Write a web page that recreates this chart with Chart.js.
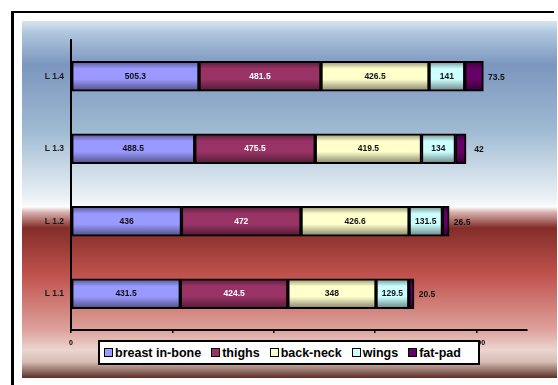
<!DOCTYPE html>
<html><head><meta charset="utf-8">
<script src="https://cdn.jsdelivr.net/npm/chart.js@4/dist/chart.umd.min.js"></script>
<style>
html,body{margin:0;padding:0;background:#fff;}
#wrap{position:relative;width:558px;height:385px;overflow:hidden;}
#legend{position:absolute;left:98px;top:340px;width:374px;height:21px;border:2px solid #000;background:#fff;display:flex;align-items:center;justify-content:flex-start;padding-left:4px;box-sizing:content-box;font:bold 12.5px "Liberation Sans",Arial,sans-serif;color:#000;white-space:nowrap;}
#legend .item{display:flex;align-items:center;margin-right:10px;}
#legend .sw{width:7px;height:7px;border:1.5px solid #000;margin-right:2px;}
</style></head>
<body><div id="wrap"><canvas id="c" width="558" height="385"></canvas><div id="legend"></div></div>
<script>
const categories = ['L 1.1','L 1.2','L 1.3','L 1.4'];
const seriesNames = ['breast in-bone','thighs','back-neck','wings','fat-pad'];
const breast = [431.5,436,488.5,505.3];
const thighs = [424.5,472,475.5,481.5];
const backNeck = [348,426.6,419.5,426.5];
const wings = [129.5,131.5,134,141];
const fatPad = [20.5,26.5,42,73.5];
const xTicks = [0,400,800,1200,1600];
const xMax = 1800;

const seriesColors = ['#9999ff','#993366','#ffffcc','#ccffff','#660066'];
const labelColors = ['#111','#fff','#111','#111','#111'];
const seriesData = [breast, thighs, backNeck, wings, fatPad];
const FONT = '"Liberation Sans", Arial, sans-serif';

function shade(hex, f){
  const n = parseInt(hex.slice(1),16);
  const r=(n>>16)&255,g=(n>>8)&255,b=n&255;
  return 'rgb('+Math.round(r*f)+','+Math.round(g*f)+','+Math.round(b*f)+')';
}
function barFill(ci){
  return function(ctx){
    const chart = ctx.chart;
    const ys = chart.scales && chart.scales.y;
    const base = seriesColors[ci];
    if(!ys || ctx.type !== 'data' || !isFinite(ys.getPixelForValue(ctx.dataIndex))) return base;
    const c = ys.getPixelForValue(ctx.dataIndex);
    const h = 15;
    const g = chart.ctx.createLinearGradient(0, c-h, 0, c+h);
    g.addColorStop(0, shade(base,0.55));
    g.addColorStop(0.25, base);
    g.addColorStop(0.6, base);
    g.addColorStop(1, shade(base,0.5));
    return g;
  };
}

const bgPlugin = {
  id:'bg',
  beforeDraw(chart){
    const c = chart.ctx;
    c.save();
    c.fillStyle='#fff'; c.fillRect(0,0,chart.width,chart.height);
    const top=21, bot=378;
    const g = c.createLinearGradient(0,top,0,bot);
    const st = [[21,'#d6e6f0'],[32,'#b0c8de'],[65,'#7c96bf'],[130,'#9ebad2'],[200,'#eef3f7'],[207,'#fbfcfd'],[212,'#d9b4b0'],[228,'#832d29'],[275,'#c0524d'],[330,'#dea29c'],[350,'#ebd5cf'],[362,'#d6bcb4'],[378,'#5a3028']];
    st.forEach(s=>g.addColorStop((s[0]-top)/(bot-top), s[1]));
    c.fillStyle=g; c.fillRect(22,top,535,bot-top);
    c.fillStyle='#000';
    c.fillRect(11,11,3,chart.height-11);
    c.fillRect(11,11,543,2);
    c.restore();
  }
};

const labelPlugin = {
  id:'vals',
  afterDatasetsDraw(chart){
    const c = chart.ctx;
    c.save();
    c.font = 'bold 8.5px '+FONT;
    c.textBaseline='middle';
    chart.data.datasets.forEach((ds,di)=>{
      const meta = chart.getDatasetMeta(di);
      meta.data.forEach((el,i)=>{
        const v = ds.data[i];
        if(di === chart.data.datasets.length-1){
          c.textAlign='center'; c.fillStyle='#111';
          c.fillText(String(v), el.x+13, el.y+1);
        } else {
          c.textAlign='center'; c.fillStyle=labelColors[di];
          c.fillText(String(v), (el.x+el.base)/2, el.y);
        }
      });
    });
    c.restore();
  }
};

const chart = new Chart(document.getElementById('c'), {
  type:'bar',
  data:{
    labels: categories,
    datasets: seriesNames.map((n,i)=>({
      label:n, data:seriesData[i],
      backgroundColor: barFill(i),
      borderColor:'#000', borderWidth:2, borderSkipped:false,
      barThickness:30
    }))
  },
  options:{
    indexAxis:'y', responsive:false, animation:false,
    layout:{padding:{top:40,right:31,left:0,bottom:0}},
    plugins:{legend:{display:false}, tooltip:{enabled:false}, title:{display:false}},
    scales:{
      x:{
        stacked:true, min:0, max:xMax,
        afterFit(s){ s.height = 55; },
        afterBuildTicks(s){ s.ticks = xTicks.map(v=>({value:v})); },
        grid:{display:true, drawOnChartArea:false, drawTicks:true, tickLength:3, color:'#000', lineWidth:1.5},
        border:{display:true, color:'#000', width:2},
        ticks:{padding:6, color:'#000', font:{family:FONT, size:7, weight:'bold'}, maxRotation:0, autoSkip:false}
      },
      y:{
        stacked:true, reverse:true,
        afterFit(s){ s.width = 71; },
        grid:{display:false, tickLength:0},
        border:{display:true, color:'#000', width:2},
        ticks:{padding:7, color:'#1a1a1a', font:{family:FONT, size:8.5, weight:'bold'}}
      }
    }
  },
  plugins:[bgPlugin, labelPlugin]
});

const leg = document.getElementById('legend');
chart.data.datasets.forEach((ds,i)=>{
  const it = document.createElement('div'); it.className='item';
  const sw = document.createElement('span'); sw.className='sw'; sw.style.background=seriesColors[i];
  const tx = document.createElement('span'); tx.textContent = ds.label;
  it.appendChild(sw); it.appendChild(tx); leg.appendChild(it);
});
</script>
</body></html>
